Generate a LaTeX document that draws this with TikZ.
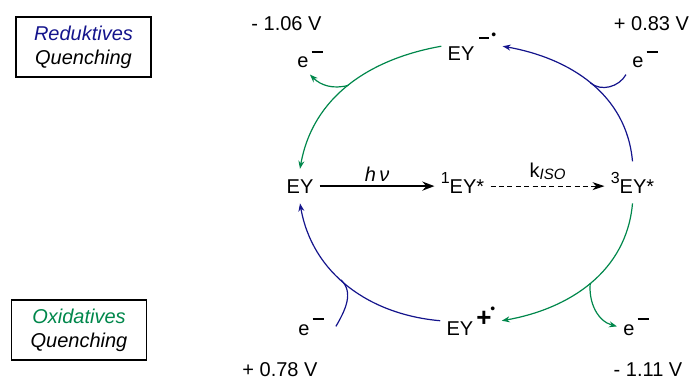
\documentclass[tikz,border=0pt]{standalone}
\usepackage{fontspec}
\setmainfont{Liberation Sans}
\usepackage{xcolor}
\usetikzlibrary{arrows.meta}
\definecolor{redblau}{RGB}{20,20,140}
\definecolor{oxgruen}{RGB}{0,135,75}
% hochgestellte Ladungen
\newcommand{\eminus}{e\kern1.5pt\raisebox{7.5pt}{\rule{5.5pt}{1.2pt}}}
\newcommand{\radan}{\kern2.5pt\raisebox{10.3pt}{\rule{5pt}{1.3pt}}\kern1pt\raisebox{10.5pt}{\scriptsize\textbullet}}
\newcommand{\radkat}{\kern1.5pt\raisebox{4.2pt}{\fontsize{13}{13}\selectfont\bfseries +}\kern-0.5pt\raisebox{11pt}{\scriptsize\textbullet}}

\begin{document}
\begin{tikzpicture}[x=0.5pt, y=0.5pt,
    chem/.style={inner xsep=3pt, inner ysep=5pt, anchor=base},
    elec/.style={inner sep=3pt, anchor=base west},
    kasten/.style={draw, line width=0.6pt, align=center, inner sep=0pt,
        minimum width=67.5pt, minimum height=30pt, font=\itshape},
    bogen/.style={line width=0.6pt},
    spitze/.style={-{Stealth[length=4pt,width=3pt]}}]
    \useasboundingbox (0,0) rectangle (691,381);
    % Kaesten
    \node[kasten] (red) at (83.5,334) {\textcolor{redblau}{Reduktives}\\Quenching};
    \node[kasten] (ox) at (79,51) {\textcolor{oxgruen}{Oxidatives}\\Quenching};
    % Spezies
    \node[chem] (EY) at (300,188) {EY};
    \node[chem] (EY1) at (462.5,188) {\raisebox{5pt}{\footnotesize 1}EY*};
    \node[chem] (EY3) at (632.5,188) {\raisebox{5pt}{\footnotesize 3}EY*};
    \node[chem] (EYm) at (472,321) {EY\radan};
    \node[chem] (EYp) at (471,46) {EY\radkat};
    % Elektronen
    \node[elec] (eTL) at (291,313) {\eminus};
    \node[elec] (eTR) at (626,313) {\eminus};
    \node[elec] (eBL) at (292,46) {\eminus};
    \node[elec] (eBR) at (617,46) {\eminus};
    % Potentiale
    \node (pTL) at (286.5,357) {- 1.06 V};
    \node (pTR) at (651.5,357) {+ 0.83 V};
    \node (pBL) at (280,11) {+ 0.78 V};
    \node (pBR) at (648,11) {- 1.11 V};
    % Anregung und ISC
    \draw[line width=1pt, -{Stealth[length=6pt,width=4.5pt]}] (EY.east) -- (EY.east -| EY1.west)
        node[midway, above, inner sep=2pt] {\itshape h\,ν};
    \draw[line width=0.5pt, dash pattern=on 2.5pt off 1.7pt, -{Stealth[length=6pt,width=4pt]}]
        (EY1.east |- EY.east) -- (EY3.west |- EY.east)
        node[midway, above, inner sep=3pt] {k\raisebox{-1pt}{\fontsize{7.5}{8}\selectfont\itshape ISO}};
    % reduktiver Zyklus
    \draw[bogen, redblau, spitze] (EY3.north) to[out=95, in=-10] coordinate[pos=0.5] (jTR) (EYm.east);
    \draw[bogen, redblau] (eTR.south west) to[out=-120, in=-39] (jTR);
    \draw[bogen, oxgruen, spitze] (EYm.west) to[out=190, in=80] coordinate[pos=0.5] (jTL) (EY.north);
    \draw[bogen, oxgruen, spitze] (jTL) to[out=195, in=-45] (eTL.south);
    % oxidativer Zyklus
    \draw[bogen, oxgruen, spitze] (EY3.south) to[out=-95, in=10] coordinate[pos=0.5] (jBR) (EYp.east);
    \draw[bogen, oxgruen, spitze] (jBR) to[out=-95, in=165] (eBR.west);
    \draw[bogen, redblau, spitze] (EYp.west) to[out=175, in=-80] coordinate[pos=0.55] (jBL) (EY.south);
    \draw[bogen, redblau] ([xshift=3pt]eBL.east) to[out=60, in=-43] (jBL);
\end{tikzpicture}
\end{document}
